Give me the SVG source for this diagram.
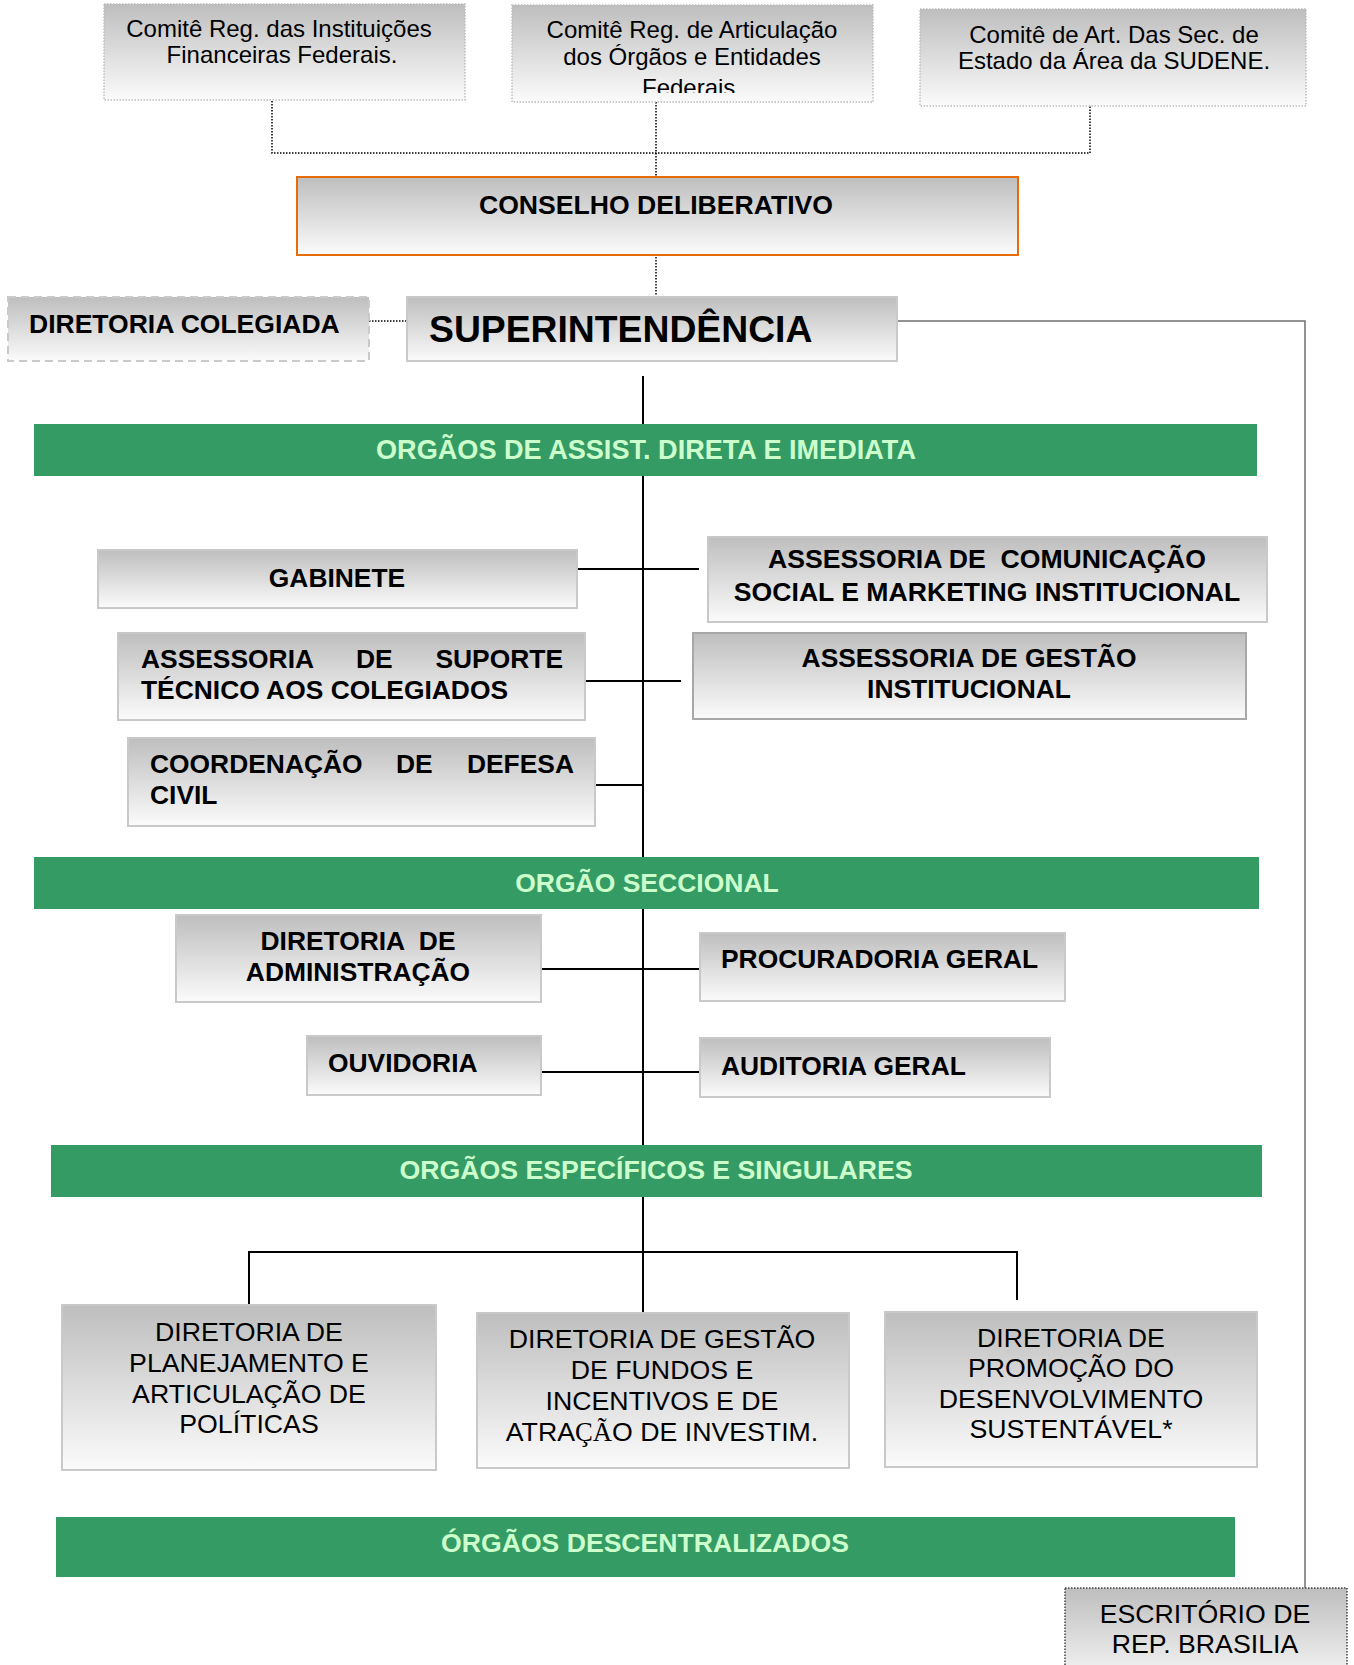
<svg xmlns="http://www.w3.org/2000/svg" width="1354" height="1665" viewBox="0 0 1354 1665">
<defs>
<linearGradient id="g" x1="0" y1="0" x2="0" y2="1">
<stop offset="0" stop-color="#bebebe"/>
<stop offset="1" stop-color="#fbfbfb"/>
</linearGradient>
<clipPath id="clip2"><rect x="512" y="5" width="361" height="88"/></clipPath>
</defs>
<style>
.box{fill:url(#g);stroke:#c9c9c9;stroke-width:2}
.dotbox{fill:url(#g);stroke:#bdbdbd;stroke-width:1.5;stroke-dasharray:1.5 1.5}
.band{fill:#359b65}
.bt{font-family:"Liberation Sans",Arial,sans-serif;font-weight:bold;font-size:26.4px;fill:#000}
.nt{font-family:"Liberation Sans",Arial,sans-serif;font-size:26.7px;fill:#000}
.ct{font-family:"Liberation Sans",Arial,sans-serif;font-size:24px;fill:#000;text-anchor:middle}
.gt{font-family:"Liberation Sans",Arial,sans-serif;font-weight:bold;font-size:26.5px;fill:#ccffcc;text-anchor:middle}
.m{text-anchor:middle}
.e{text-anchor:end}
.ser{font-family:"Liberation Serif","Times New Roman",serif}
.dot{fill:none;stroke:#000;stroke-width:1.5;stroke-dasharray:1.5 1.5}
.ln{fill:none;stroke:#000;stroke-width:2}
</style>

<g id="connectors">
<path class="dot" d="M272 101 V153 H1090 V106"/>
<path class="dot" d="M656 102 V177"/>
<path class="dot" d="M656 248 V297"/>
<path class="dot" d="M369 321 H410"/>
<path d="M897 321 H1305 V1588" fill="none" stroke="#707070" stroke-width="1.5"/>
<path class="ln" d="M643 376 V1313"/>
<path class="ln" d="M578 569 H699"/>
<path class="ln" d="M585 681 H681"/>
<path class="ln" d="M595 785 H643"/>
<path class="ln" d="M537 969 H706"/>
<path class="ln" d="M541 1072 H700"/>
<path class="ln" d="M249 1305 V1252 H1017 V1300"/>
</g>

<g id="comite-instituicoes">
<rect class="dotbox" x="104" y="4" width="361" height="96"/>
<text class="ct" x="279" y="37">Comitê Reg. das Instituições</text>
<text class="ct" x="282" y="63">Financeiras Federais.</text>
</g>

<g id="comite-articulacao">
<rect class="dotbox" x="512" y="5" width="361" height="97"/>
<g clip-path="url(#clip2)">
<text class="ct" x="692" y="38">Comitê Reg. de Articulação</text>
<text class="ct" x="692" y="65">dos Órgãos e Entidades</text>
<text class="ct" x="692" y="96">Federais.</text>
</g>
</g>

<g id="comite-sudene">
<rect class="dotbox" x="920" y="9" width="386" height="97"/>
<text class="ct" x="1114" y="43">Comitê de Art. Das Sec. de</text>
<text class="ct" x="1114" y="69">Estado da Área da SUDENE.</text>
</g>

<g id="conselho">
<rect x="297" y="177" width="721" height="78" fill="url(#g)" stroke="#e46c0a" stroke-width="2"/>
<text class="bt m" x="656" y="214" style="font-size:26.6px">CONSELHO DELIBERATIVO</text>
</g>

<g id="diretoria-colegiada">
<rect x="8" y="297" width="361" height="64" fill="url(#g)" stroke="#cacaca" stroke-width="2" stroke-dasharray="8 5"/>
<text class="bt" x="29" y="333" style="font-size:26.5px">DIRETORIA COLEGIADA</text>
</g>

<g id="superintendencia">
<rect class="box" x="407" y="297" width="490" height="64"/>
<text class="bt" x="429" y="342" style="font-size:37.3px">SUPERINTENDÊNCIA</text>
</g>

<g id="band-assist">
<rect class="band" x="34" y="424" width="1223" height="52"/>
<text class="gt" x="646" y="459" style="font-size:27.1px">ORGÃOS DE ASSIST. DIRETA E IMEDIATA</text>
</g>

<g id="gabinete">
<rect class="box" x="98" y="550" width="479" height="58"/>
<text class="bt m" x="337" y="587">GABINETE</text>
</g>

<g id="assessoria-comunicacao">
<rect class="box" x="708" y="537" width="559" height="85"/>
<text class="bt m" x="987" y="568" style="white-space:pre;font-size:26.6px">ASSESSORIA DE  COMUNICAÇÃO</text>
<text class="bt m" x="987" y="601" style="font-size:26.6px">SOCIAL E MARKETING INSTITUCIONAL</text>
</g>

<g id="assessoria-suporte">
<rect class="box" x="118" y="633" width="467" height="87"/>
<text class="bt" y="668"><tspan x="141">ASSESSORIA</tspan><tspan x="356">DE</tspan><tspan x="563" class="e">SUPORTE</tspan></text>
<text class="bt" x="141" y="699">TÉCNICO AOS COLEGIADOS</text>
</g>

<g id="assessoria-gestao">
<rect x="693" y="633" width="553" height="86" fill="url(#g)" stroke="#a8a8a8" stroke-width="2"/>
<text class="bt m" x="969" y="667">ASSESSORIA DE GESTÃO</text>
<text class="bt m" x="969" y="698">INSTITUCIONAL</text>
</g>

<g id="coordenacao-defesa-civil">
<rect class="box" x="128" y="738" width="467" height="88"/>
<text class="bt" y="773"><tspan x="150">COORDENAÇÃO</tspan><tspan x="396">DE</tspan><tspan x="574" class="e">DEFESA</tspan></text>
<text class="bt" x="150" y="804">CIVIL</text>
</g>

<g id="band-seccional">
<rect class="band" x="34" y="857" width="1225" height="52"/>
<text class="gt" x="647" y="892">ORGÃO SECCIONAL</text>
</g>

<g id="diretoria-administracao">
<rect class="box" x="176" y="915" width="365" height="87"/>
<text class="bt m" x="358" y="950" style="white-space:pre">DIRETORIA  DE</text>
<text class="bt m" x="358" y="981">ADMINISTRAÇÃO</text>
</g>

<g id="procuradoria">
<rect class="box" x="700" y="933" width="365" height="68"/>
<text class="bt" x="721" y="968">PROCURADORIA GERAL</text>
</g>

<g id="ouvidoria">
<rect class="box" x="307" y="1036" width="234" height="59"/>
<text class="bt" x="328" y="1072">OUVIDORIA</text>
</g>

<g id="auditoria">
<rect class="box" x="700" y="1038" width="350" height="59"/>
<text class="bt" x="721" y="1075">AUDITORIA GERAL</text>
</g>

<g id="band-especificos">
<rect class="band" x="51" y="1145" width="1211" height="52"/>
<text class="gt" x="656" y="1179" style="font-size:26.7px">ORGÃOS ESPECÍFICOS E SINGULARES</text>
</g>

<g id="diretoria-planejamento">
<rect class="box" x="62" y="1305" width="374" height="165"/>
<text class="nt m" x="249" y="1341">DIRETORIA DE</text>
<text class="nt m" x="249" y="1372">PLANEJAMENTO E</text>
<text class="nt m" x="249" y="1403">ARTICULAÇÃO DE</text>
<text class="nt m" x="249" y="1433">POLÍTICAS</text>
</g>

<g id="diretoria-fundos">
<rect class="box" x="477" y="1313" width="372" height="155"/>
<text class="nt m" x="662" y="1348">DIRETORIA DE GESTÃO</text>
<text class="nt m" x="662" y="1379">DE FUNDOS E</text>
<text class="nt m" x="662" y="1410">INCENTIVOS E DE</text>
<text class="nt m" x="662" y="1441">ATRA<tspan class="ser">ÇÃ</tspan>O DE INVESTIM.</text>
</g>

<g id="diretoria-promocao">
<rect class="box" x="885" y="1312" width="372" height="155"/>
<text class="nt m" x="1071" y="1347">DIRETORIA DE</text>
<text class="nt m" x="1071" y="1377">PROMOÇÃO DO</text>
<text class="nt m" x="1071" y="1408">DESENVOLVIMENTO</text>
<text class="nt m" x="1071" y="1438">SUSTENTÁVEL*</text>
</g>

<g id="band-descentralizados">
<rect class="band" x="56" y="1517" width="1179" height="60"/>
<text class="gt" x="645" y="1552" style="font-size:26.6px">ÓRGÃOS DESCENTRALIZADOS</text>
</g>

<g id="escritorio-brasilia">
<rect x="1065" y="1588" width="282" height="100" fill="url(#g)" stroke="#444" stroke-width="1.5" stroke-dasharray="1.5 1.5"/>
<text class="nt m" x="1205" y="1623">ESCRITÓRIO DE</text>
<text class="nt m" x="1205" y="1653">REP. BRASILIA</text>
</g>
</svg>
